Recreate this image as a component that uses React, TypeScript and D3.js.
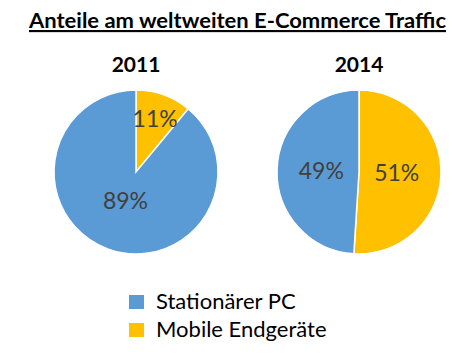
import React from "react";
import * as d3 from "d3";

const categories = ["Mobile Endgeräte", "Stationärer PC"];
const years = ["2011", "2014"];
const values2011 = [11, 89];
const values2014 = [51, 49];
const legendOrder = ["Stationärer PC", "Mobile Endgeräte"];
const title = "Anteile am weltweiten E-Commerce Traffic";

const colorMap: Record<string, string> = {
  "Stationärer PC": "#5B9BD5",
  "Mobile Endgeräte": "#FFC000",
};

const W = 470;
const H = 356;
const R = 82;
const centers = [
  { x: 136, y: 172 },
  { x: 359, y: 172 },
];
const FONT = "Lato, 'Open Sans', sans-serif";

function labelFactor(v: number) {
  if (v < 20) return 0.69;
  if (v > 80) return 0.38;
  return 0.46;
}

function Pie({ values, cx, cy }: { values: number[]; cx: number; cy: number }) {
  const data = categories.map((c, i) => ({ cat: c, value: values[i] }));
  const pie = d3.pie<any>().sort(null).value((d) => d.value);
  const arcs = pie(data);
  const arc = d3.arc<any>().innerRadius(0).outerRadius(R);
  return (
    <g transform={`translate(${cx},${cy})`}>
      {arcs.map((a, i) => (
        <path key={i} d={arc(a) as string} fill={colorMap[a.data.cat]} stroke="#fff" strokeWidth={1.5} />
      ))}
      {arcs.map((a, i) => {
        const f = labelFactor(a.data.value) * R;
        const [lx, ly] = d3.arc<any>().innerRadius(f).outerRadius(f).centroid(a);
        return (
          <text key={"t" + i} x={lx} y={ly} dy="0.35em" textAnchor="middle" fontSize={23} fill="#404040" fontFamily={FONT}>
            {a.data.value}%
          </text>
        );
      })}
    </g>
  );
}

export default function App() {
  const allValues = [values2011, values2014];
  return (
    <svg width={W} height={H} style={{ position: "absolute", left: 0, top: 0, background: "#fff" }}>
      <text x={29} y={28} fontSize={21.5} fontWeight="bold" fontFamily={FONT} textDecoration="underline" fill="#000" textLength={417} lengthAdjust="spacingAndGlyphs">
        {title}
      </text>
      {years.map((y, i) => (
        <text key={y} x={centers[i].x} y={72} textAnchor="middle" fontSize={21} fontWeight="bold" fontFamily={FONT} fill="#000">
          {y}
        </text>
      ))}
      {allValues.map((v, i) => (
        <Pie key={i} values={v} cx={centers[i].x} cy={centers[i].y} />
      ))}
      {legendOrder.map((c, i) => (
        <g key={c} transform={`translate(129,${295 + i * 28})`}>
          <rect x={0} y={0} width={15} height={14} fill={colorMap[c]} />
          <text x={27} y={14} fontSize={22} fontFamily={FONT} fill="#000">
            {c}
          </text>
        </g>
      ))}
    </svg>
  );
}
